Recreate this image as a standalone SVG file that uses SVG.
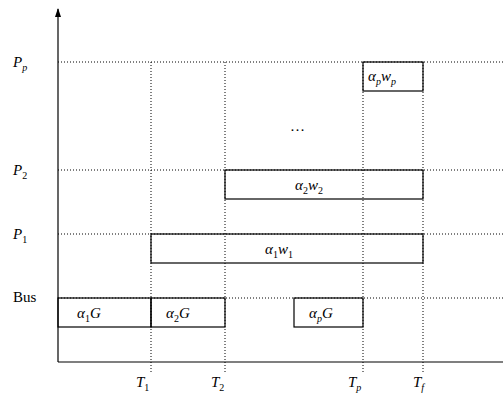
<svg xmlns="http://www.w3.org/2000/svg" width="503" height="397" viewBox="0 0 503 397">
<style>
.grid{stroke:#000;stroke-width:1;stroke-dasharray:1 2;fill:none}
.box{stroke:#000;stroke-width:1.2;fill:none}
.axis{stroke:#000;stroke-width:1.2;fill:none}
text{font-family:"Liberation Serif","DejaVu Serif",serif;font-size:15px;fill:#000}
.m{font-style:italic}
.sub{font-size:10px}
.up{font-style:normal}
</style>
<defs>
<marker id="arr" markerWidth="10" markerHeight="8" refX="8" refY="4" orient="auto" markerUnits="userSpaceOnUse">
<path d="M0,1 L9,4 L0,7 Z" fill="#000"/>
</marker>
</defs>
<g id="connectors">
<line class="axis" x1="58" y1="362" x2="58" y2="9" marker-end="url(#arr)"/>
<line class="axis" x1="58" y1="362" x2="503" y2="362"/>
<line class="grid" x1="58" y1="62" x2="503" y2="62"/>
<line class="grid" x1="58" y1="170" x2="503" y2="170"/>
<line class="grid" x1="58" y1="234" x2="503" y2="234"/>
<line class="grid" x1="58" y1="298" x2="503" y2="298"/>
<line class="grid" x1="151" y1="62" x2="151" y2="372"/>
<line class="grid" x1="225" y1="62" x2="225" y2="372"/>
<line class="grid" x1="363" y1="62" x2="363" y2="372"/>
<line class="grid" x1="423" y1="62" x2="423" y2="372"/>
</g>
<g id="labels">
<text class="m" x="13" y="67">P<tspan class="sub" dy="4">p</tspan></text>
<text class="m" x="13" y="175">P<tspan class="sub up" dy="4">2</tspan></text>
<text class="m" x="13" y="239">P<tspan class="sub up" dy="4">1</tspan></text>
<text x="13" y="302">Bus</text>
<text class="m" x="136" y="387">T<tspan class="sub up" dy="4">1</tspan></text>
<text class="m" x="211" y="387">T<tspan class="sub up" dy="4">2</tspan></text>
<text class="m" x="348" y="387">T<tspan class="sub" dy="4">p</tspan></text>
<text class="m" x="413" y="387">T<tspan class="sub" dy="4">f</tspan></text>
<text x="290" y="131">…</text>
</g>
<g id="box-pp">
<rect class="box" x="363" y="62" width="60" height="29"/>
<text class="m" x="368" y="81">α<tspan class="sub" dy="4">p</tspan><tspan dy="-4">w</tspan><tspan class="sub" dy="4">p</tspan></text>
</g>
<g id="box-p2">
<rect class="box" x="225" y="170" width="198" height="29"/>
<text class="m" x="295" y="190">α<tspan class="sub up" dy="4">2</tspan><tspan dy="-4">w</tspan><tspan class="sub up" dy="4">2</tspan></text>
</g>
<g id="box-p1">
<rect class="box" x="151" y="234" width="272" height="29"/>
<text class="m" x="265" y="254">α<tspan class="sub up" dy="4">1</tspan><tspan dy="-4">w</tspan><tspan class="sub up" dy="4">1</tspan></text>
</g>
<g id="bus-1">
<rect class="box" x="58" y="298" width="93" height="29"/>
<text class="m" x="77" y="318">α<tspan class="sub up" dy="4">1</tspan><tspan dy="-4">G</tspan></text>
</g>
<g id="bus-2">
<rect class="box" x="151" y="298" width="74" height="29"/>
<text class="m" x="166" y="318">α<tspan class="sub up" dy="4">2</tspan><tspan dy="-4">G</tspan></text>
</g>
<g id="bus-p">
<rect class="box" x="294" y="298" width="69" height="29"/>
<text class="m" x="309" y="318">α<tspan class="sub" dy="4">p</tspan><tspan dy="-4">G</tspan></text>
</g>
</svg>
